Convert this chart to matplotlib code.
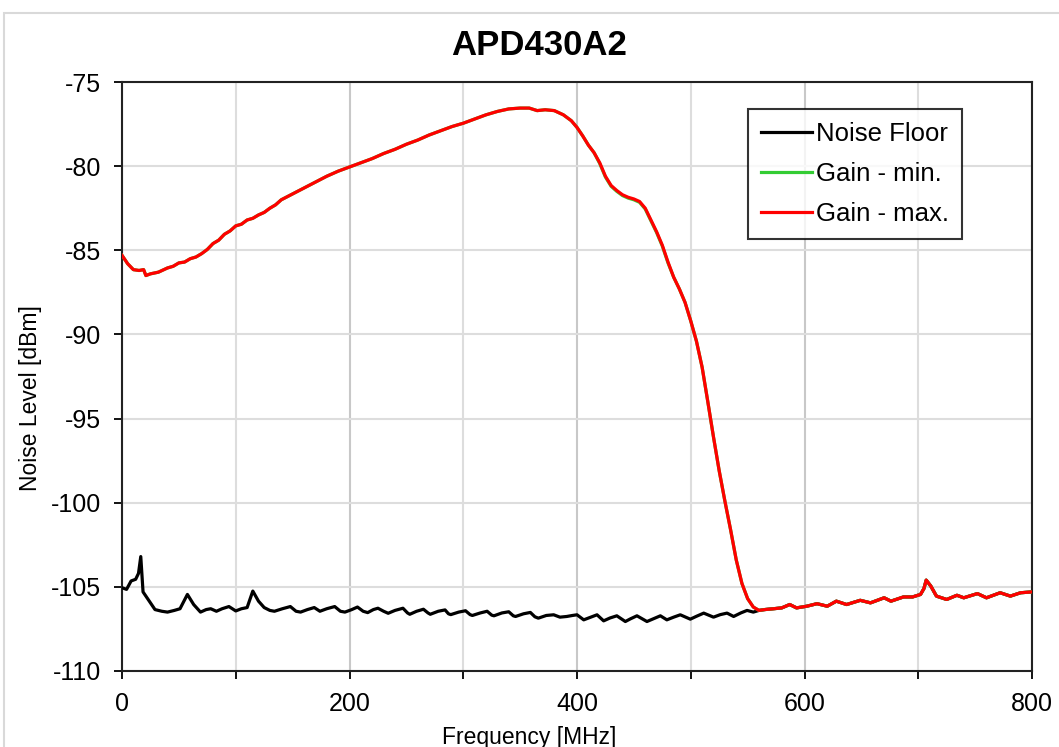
import matplotlib
matplotlib.use("Agg")
import matplotlib.pyplot as plt
from matplotlib.patches import Rectangle
from matplotlib.ticker import MultipleLocator

plt.rcParams['font.family'] = ['Liberation Sans', 'DejaVu Sans']

title = "APD430A2"
x_label = "Frequency [MHz]"
y_label = "Noise Level [dBm]"
series_names = ["Noise Floor", "Gain - min.", "Gain - max."]

x_ticks = [0, 200, 400, 600, 800]
y_ticks = [-75, -80, -85, -90, -95, -100, -105, -110]

nf_freq = [0, 4, 8, 12, 14.5, 16.5, 18.5, 23, 29, 35, 40, 46, 51, 57.5, 63, 69, 74, 78, 83, 88,
           94, 100, 105, 110, 115, 120, 125, 130, 134, 141, 148, 153, 157, 163, 169, 174, 180,
           187, 192, 196, 202, 207, 212, 216, 221, 225, 230, 234, 240, 247, 251, 253, 259, 265,
           269, 271, 278, 284, 287, 289, 296, 302, 306, 308, 315, 321, 325, 327, 334, 340, 344,
           346, 353, 359, 363, 366, 373, 379.5, 385, 391, 396, 400, 405.9, 412, 417.6, 423.4,
           429, 435, 442.5, 447, 452.7, 461.5, 467, 473.3, 479, 485, 490.8, 499.6, 505, 511.4,
           520, 526, 531.9, 537.7, 544, 549.5, 555, 560, 565, 573, 580, 587, 593, 602, 611, 620,
           628, 637, 649, 658, 670, 676, 687, 695, 702, 705, 707, 711, 716, 725, 734, 740, 752,
           760, 772, 781, 790, 800]
nf_db = [-105.05, -105.15, -104.65, -104.55, -104.2, -103.2, -105.3, -105.75, -106.35, -106.45,
         -106.5, -106.4, -106.3, -105.45, -106.05, -106.5, -106.35, -106.3, -106.45, -106.3,
         -106.17, -106.43, -106.3, -106.23, -105.25, -105.85, -106.23, -106.4, -106.45, -106.3,
         -106.17, -106.45, -106.5, -106.35, -106.23, -106.45, -106.3, -106.17, -106.45, -106.5,
         -106.35, -106.2, -106.45, -106.53, -106.35, -106.27, -106.45, -106.57, -106.4, -106.27,
         -106.55, -106.63, -106.45, -106.33, -106.55, -106.63, -106.45, -106.37, -106.6, -106.65,
         -106.5, -106.42, -106.65, -106.7, -106.55, -106.45, -106.68, -106.72, -106.55, -106.48,
         -106.72, -106.76, -106.6, -106.52, -106.78, -106.86, -106.7, -106.66, -106.8, -106.76,
         -106.7, -106.66, -106.96, -106.8, -106.66, -107.02, -106.85, -106.72, -107.06, -106.9,
         -106.72, -107.06, -106.9, -106.72, -106.96, -106.8, -106.66, -106.92, -106.75, -106.56,
         -106.8, -106.65, -106.56, -106.76, -106.55, -106.4, -106.5, -106.4, -106.35, -106.3,
         -106.25, -106.05, -106.25, -106.15, -106.0, -106.15, -105.85, -106.05, -105.8, -105.95,
         -105.65, -105.85, -105.6, -105.6, -105.45, -105.1, -104.6, -104.95, -105.55, -105.75,
         -105.5, -105.65, -105.4, -105.65, -105.35, -105.55, -105.35, -105.3]

gain_freq = [0, 5, 10, 15, 19, 21, 25, 32, 40, 45, 50, 55, 60, 65, 70, 75, 80, 85, 90, 95, 100,
             105, 110, 115, 120, 125, 130, 135, 140, 150, 160, 170, 180, 190, 200, 210, 220, 230,
             240, 250, 260, 270, 280, 290, 300, 310, 320, 330, 340, 350, 358, 365, 372, 380, 388,
             395, 400, 405, 410, 415, 420, 425, 430, 435, 440, 445, 450, 455, 460, 465, 470, 475,
             480, 485, 490, 495, 500, 505, 510, 515, 520, 525, 530, 535, 540, 545, 550, 555, 560,
             565, 573, 580, 587, 593, 602, 611, 620, 628, 637, 649, 658, 670, 676, 687, 695, 702,
             705, 707, 711, 716, 725, 734, 740, 752, 760, 772, 781, 790, 800]
gain_max_db = [-85.3, -85.8, -86.15, -86.2, -86.15, -86.5, -86.4, -86.3, -86.05, -85.95, -85.75,
               -85.7, -85.5, -85.4, -85.2, -84.95, -84.6, -84.4, -84.05, -83.85, -83.55, -83.45,
               -83.2, -83.1, -82.9, -82.75, -82.5, -82.3, -82.0, -81.65, -81.3, -80.95, -80.6,
               -80.3, -80.05, -79.8, -79.55, -79.25, -79.0, -78.7, -78.45, -78.15, -77.9, -77.65,
               -77.45, -77.2, -76.95, -76.75, -76.6, -76.55, -76.55, -76.7, -76.65, -76.7,
               -76.95, -77.3, -77.7, -78.2, -78.75, -79.2, -79.8, -80.6, -81.15, -81.45, -81.7,
               -81.85, -81.95, -82.1, -82.5, -83.2, -83.9, -84.7, -85.7, -86.6, -87.3, -88.1,
               -89.2, -90.4, -91.95, -94.0, -96.1, -98.1, -99.9, -101.6, -103.4, -104.8, -105.7,
               -106.2, -106.4, -106.35, -106.3, -106.25, -106.05, -106.25, -106.15, -106.0,
               -106.15, -105.85, -106.05, -105.8, -105.95, -105.65, -105.85, -105.6, -105.6,
               -105.45, -105.1, -104.6, -104.95, -105.55, -105.75, -105.5, -105.65, -105.4,
               -105.65, -105.35, -105.55, -105.35, -105.3]
gain_min_db = [-85.3, -85.8, -86.15, -86.2, -86.15, -86.5, -86.4, -86.3, -86.05, -85.95, -85.75,
               -85.7, -85.5, -85.4, -85.2, -84.95, -84.6, -84.4, -84.05, -83.85, -83.55, -83.45,
               -83.2, -83.1, -82.9, -82.75, -82.5, -82.3, -82.0, -81.65, -81.3, -80.95, -80.6,
               -80.3, -80.05, -79.8, -79.55, -79.25, -79.0, -78.7, -78.45, -78.15, -77.9, -77.65,
               -77.45, -77.2, -76.95, -76.75, -76.6, -76.55, -76.55, -76.7, -76.65, -76.7,
               -76.95, -77.3, -77.7, -78.2, -78.75, -79.2, -79.85, -80.65, -81.2, -81.5, -81.75,
               -81.9, -82.0, -82.15, -82.55, -83.25, -83.95, -84.75, -85.75, -86.6, -87.3, -88.1,
               -89.2, -90.4, -91.95, -94.0, -96.1, -98.1, -99.9, -101.6, -103.4, -104.8, -105.7,
               -106.2, -106.4, -106.35, -106.3, -106.25, -106.05, -106.25, -106.15, -106.0,
               -106.15, -105.85, -106.05, -105.8, -105.95, -105.65, -105.85, -105.6, -105.6,
               -105.45, -105.1, -104.6, -104.95, -105.55, -105.75, -105.5, -105.65, -105.4,
               -105.65, -105.35, -105.55, -105.35, -105.3]

W, H = 1059, 747
fig = plt.figure(figsize=(W / 100, H / 100), dpi=100)
fig.patch.set_facecolor('white')

# outer chart-area border (light gray)
fig.add_artist(Rectangle((4 / W, -0.1), 1.2, 1 - 13 / H + 0.1, transform=fig.transFigure,
                         fill=False, edgecolor='#d9d9d9', linewidth=1.5))

ax = fig.add_axes([122 / W, 1 - 671 / H, (1032 - 122) / W, (671 - 82) / H])

ax.plot(nf_freq, nf_db, color='black', lw=2.3, label=series_names[0], zorder=3)
ax.plot(gain_freq, gain_min_db, color='#33cc33', lw=2.3, label=series_names[1], zorder=4)
ax.plot(gain_freq, gain_max_db, color='#ff0000', lw=2.3, label=series_names[2], zorder=5)

ax.set_xlim(0, 800)
ax.set_ylim(-110, -75)
ax.set_xticks(x_ticks)
ax.xaxis.set_minor_locator(MultipleLocator(100))
ax.set_yticks(y_ticks)
ax.set_yticklabels([str(v) for v in y_ticks])

ax.grid(which='major', axis='x', color='#c8c8c8', lw=1.5, zorder=0)
ax.grid(which='minor', axis='x', color='#dddddd', lw=1.5, zorder=0)
ax.grid(which='major', axis='y', color='#dddddd', lw=1.5, zorder=0)
ax.set_axisbelow(True)

ax.tick_params(axis='both', which='both', direction='out', length=6, width=1.3,
               color='black', labelsize=18, pad=9)
ax.tick_params(axis='x', which='minor', labelbottom=False)
for sp in ax.spines.values():
    sp.set_color('#222222')
    sp.set_linewidth(1.5)

fig.text(538.7 / W, 1 - 45.5 / H, title, ha='center', va='center',
         fontsize=25, fontweight='bold')
fig.text(529 / W, 1 - 726 / H, x_label, ha='center', va='top', fontsize=16.5)
fig.text(31 / W, 1 - 398 / H, y_label, ha='center', va='center', rotation=90, fontsize=16.5)

leg = ax.legend(loc='upper left', bbox_to_anchor=(748 / W, 1 - 109 / H),
                bbox_transform=fig.transFigure, frameon=True, fancybox=False,
                edgecolor='black', fontsize=18.5, handlelength=2.0, handletextpad=0.15,
                labelspacing=0.62, borderpad=0.5, borderaxespad=0)
leg.get_frame().set_linewidth(1.5)

fig.savefig('out.png', dpi=100)
